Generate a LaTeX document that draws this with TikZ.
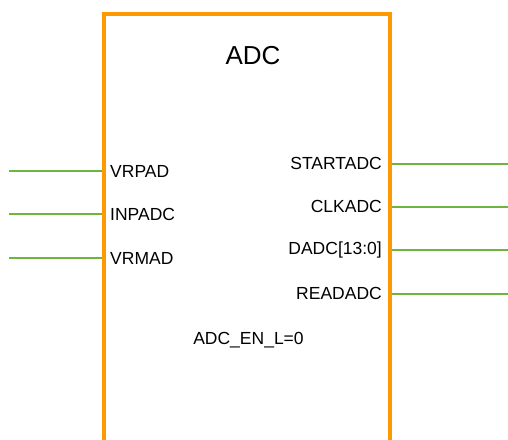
\documentclass[tikz,border=0pt]{standalone}
\usepackage{fontspec}
\setmainfont{Liberation Sans}
\definecolor{boxorange}{RGB}{255,153,0}
\definecolor{wiregreen}{RGB}{112,180,64}
\begin{document}
\begin{tikzpicture}[x=1pt,y=-1pt,
  blockbox/.style={draw=boxorange,line width=3.2pt,minimum width=286pt,minimum height=446pt,inner sep=0pt},
  wire/.style={draw=wiregreen,line width=2pt},
  pinlabel/.style={font=\fontsize{17.5}{20}\selectfont,inner sep=0pt},
  titlelabel/.style={font=\fontsize{26}{30}\selectfont,inner sep=0pt}]
\useasboundingbox (0,0) rectangle (508,439);
\clip (0,0) rectangle (508,439);
\node[blockbox] (adc) at (247,237) {};
\node[titlelabel] (title) at (253,56) {ADC};
% left pins
\coordinate (vrpadEnd) at (9,171);
\coordinate (inpadcEnd) at (9,214);
\coordinate (vrmadEnd) at (9,258);
\node[pinlabel,anchor=west] (vrpad) at (110,171.5) {VRPAD};
\node[pinlabel,anchor=west] (inpadc) at (110,214.5) {INPADC};
\node[pinlabel,anchor=west] (vrmad) at (110,258.5) {VRMAD};
\draw[wire] (vrpadEnd) -- (vrpadEnd -| adc.west);
\draw[wire] (inpadcEnd) -- (inpadcEnd -| adc.west);
\draw[wire] (vrmadEnd) -- (vrmadEnd -| adc.west);
% right pins
\coordinate (startEnd) at (508,164);
\coordinate (clkEnd) at (508,207);
\coordinate (dadcEnd) at (508,250);
\coordinate (readEnd) at (508,294);
\node[pinlabel,anchor=east] (startadc) at (382,163) {STARTADC};
\node[pinlabel,anchor=east] (clkadc) at (382,206.5) {CLKADC};
\node[pinlabel,anchor=east] (dadc) at (382,250) {DADC[13:0]};
\node[pinlabel,anchor=east] (readadc) at (382,293.5) {READADC};
\draw[wire] (startEnd -| adc.east) -- (startEnd);
\draw[wire] (clkEnd -| adc.east) -- (clkEnd);
\draw[wire] (dadcEnd -| adc.east) -- (dadcEnd);
\draw[wire] (readEnd -| adc.east) -- (readEnd);
\node[pinlabel] (enable) at (248.5,340) {ADC\_EN\_L=0};
\end{tikzpicture}
\end{document}
